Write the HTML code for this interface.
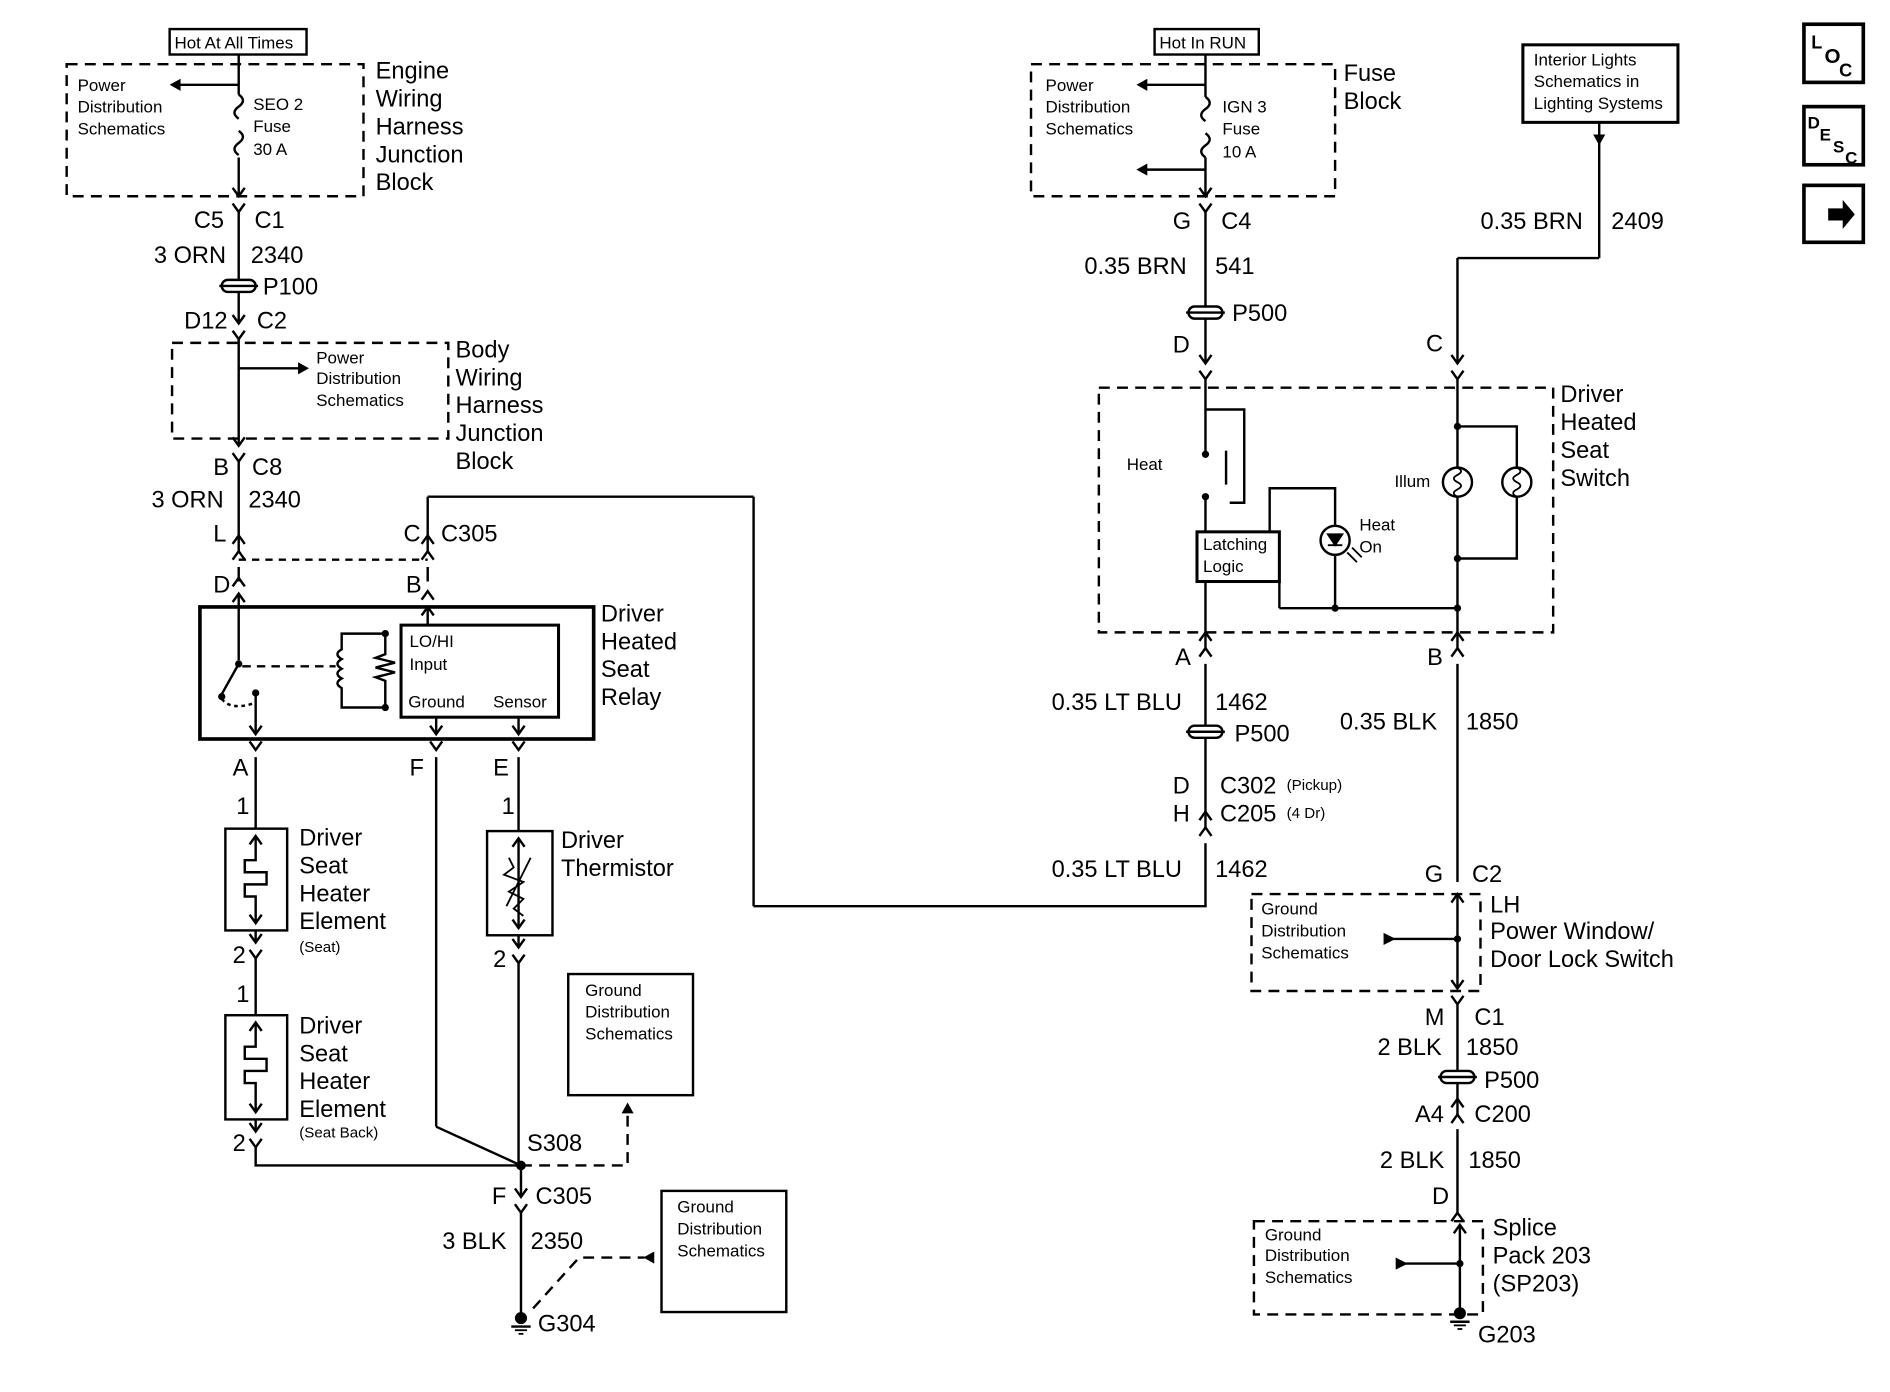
<!DOCTYPE html>
<html><head><meta charset="utf-8"><style>
html,body{margin:0;padding:0;background:#fff}
svg{display:block}
text{font-family:"Liberation Sans",Arial,sans-serif;fill:#000}
.b{font-size:19.5px}
.s{font-size:14px}
.t{font-size:12.5px}
</style></head><body>
<svg width="1890" height="1392" viewBox="0 0 1560 1149" xmlns="http://www.w3.org/2000/svg">
<defs>
<g id="cd"><path d="M-5,-7 L0,0 L5,-7" fill="none" stroke="#000" stroke-width="2"/><path d="M-5,6 L0,13 L5,6" fill="none" stroke="#000" stroke-width="2"/></g>
<g id="cu"><path d="M-5,7 L0,0 L5,7" fill="none" stroke="#000" stroke-width="2"/><path d="M-5,-6 L0,-13 L5,-6" fill="none" stroke="#000" stroke-width="2"/></g>
<g id="ad"><path d="M-5,-7 L0,0 L5,-7" fill="none" stroke="#000" stroke-width="2"/></g>
<g id="au"><path d="M-5,7 L0,0 L5,7" fill="none" stroke="#000" stroke-width="2"/></g>
<g id="spl"><rect x="-14" y="-5" width="28" height="10" rx="5" fill="#fff" stroke="#000" stroke-width="2"/><line x1="-16" y1="0" x2="16" y2="0" stroke="#000" stroke-width="2"/></g>
<g id="fuse"><path d="M0,0 q7,5 0,10 q-7,5 0,10 M0,30 q7,5 0,10 q-7,5 0,10" fill="none" stroke="#000" stroke-width="2"/></g>
<g id="gnd"><circle cx="0" cy="-4" r="5" fill="#000"/><line x1="-8" y1="3" x2="8" y2="3" stroke="#000" stroke-width="2"/><line x1="-5" y1="6" x2="5" y2="6" stroke="#000" stroke-width="1.5"/><line x1="-2" y1="9" x2="2" y2="9" stroke="#000" stroke-width="1.5"/></g>
<g id="lamp"><circle r="12" fill="#fff" stroke="#000" stroke-width="2"/><path d="M0,-12 q6,3 0,6 q-6,3 0,6 q6,3 0,6 q-6,3 0,6" fill="none" stroke="#000" stroke-width="1.5"/></g>
</defs>
<g stroke="#000" stroke-width="2" fill="none">
<rect x="140" y="24" width="113" height="21"/>
<rect x="55" y="53" width="245" height="109" stroke-dasharray="9,6"/>
<line x1="197" y1="45" x2="197" y2="78"/><line x1="197" y1="130" x2="197" y2="162"/>
<line x1="197" y1="70" x2="145" y2="70"/>
<line x1="197" y1="175" x2="197" y2="265"/>
<rect x="142" y="283" width="228" height="79" stroke-dasharray="9,6"/>
<line x1="197" y1="280" x2="197" y2="368"/>
<line x1="197" y1="304" x2="250" y2="304"/>
<line x1="197" y1="380" x2="197" y2="455"/>
<line x1="197" y1="462" x2="353" y2="462" stroke-dasharray="6,5"/>
<line x1="197" y1="468" x2="197" y2="480"/>
<line x1="353" y1="410" x2="353" y2="455"/>
<line x1="353" y1="410" x2="622" y2="410"/><line x1="622" y1="410" x2="622" y2="748"/><line x1="622" y1="748" x2="996" y2="748"/>
<line x1="353" y1="468" x2="353" y2="480"/>
<rect x="165" y="501" width="325" height="109" stroke-width="3"/>
<rect x="331" y="516" width="130" height="76" stroke-width="2.5"/>
<line x1="197" y1="490" x2="197" y2="545"/>
<line x1="197" y1="548" x2="183" y2="573"/>
<path d="M183,577 q8,10 28,3" stroke-dasharray="3,3"/>
<line x1="211" y1="572" x2="211" y2="606"/>
<line x1="200" y1="550" x2="277" y2="550" stroke-dasharray="7,5"/>
<path d="M318,523 L282,523 L282,536 q-7,4 0,8 q-7,4 0,8 q-7,4 0,8 q-7,4 0,8 L282,584 L318,584"/>
<path d="M318,523 L318,540 l-8,3 l16,4 l-16,4 l16,4 l-16,4 l8,3 L318,584"/>
<line x1="353" y1="501" x2="353" y2="516"/>
<line x1="360" y1="592" x2="360" y2="606"/><line x1="428" y1="592" x2="428" y2="606"/>
<line x1="211" y1="625" x2="211" y2="684"/>
<rect x="186" y="684" width="51" height="84"/>
<path d="M211,690 L211,710 L202,710 L202,720 L220,720 L220,730 L202,730 L202,740 L211,740 L211,762"/>
<line x1="211" y1="768" x2="211" y2="778"/>
<line x1="211" y1="790" x2="211" y2="838"/>
<rect x="186" y="838" width="51" height="86"/>
<path d="M211,844 L211,864 L202,864 L202,874 L220,874 L220,884 L202,884 L202,894 L211,894 L211,918"/>
<line x1="211" y1="924" x2="211" y2="934"/>
<path d="M211,946 L211,962 L430,962"/>
<line x1="360" y1="625" x2="360" y2="930"/><line x1="360" y1="930" x2="430" y2="962"/>
<line x1="428" y1="625" x2="428" y2="686"/>
<rect x="402" y="686" width="54" height="86"/>
<line x1="428" y1="692" x2="428" y2="766"/>
<path d="M418,748 l20,-40 M420,708 l4,8 l-8,6 l16,6 l-12,8 l12,6 l-8,8 l8,6" stroke-width="1.5"/>
<line x1="428" y1="772" x2="428" y2="782"/>
<line x1="428" y1="794" x2="428" y2="962"/>
<path d="M430,962 L518,962 L518,915" stroke-dasharray="9,6"/>
<rect x="469" y="804" width="103" height="100"/>
<line x1="430" y1="962" x2="430" y2="988"/>
<line x1="430" y1="1000" x2="430" y2="1085"/>
<path d="M440,1080 L478,1038 L532,1038" stroke-dasharray="9,6"/>
<rect x="546" y="983" width="103" height="100"/>
<rect x="953" y="24" width="86" height="21"/>
<rect x="851" y="53" width="251" height="109" stroke-dasharray="9,6"/>
<line x1="995" y1="45" x2="995" y2="80"/><line x1="995" y1="130" x2="995" y2="162"/>
<line x1="995" y1="70" x2="943" y2="70"/><line x1="995" y1="140" x2="943" y2="140"/>
<line x1="995" y1="175" x2="995" y2="300"/>
<rect x="907" y="320" width="375" height="202" stroke-dasharray="9,6"/>
<line x1="995" y1="312" x2="995" y2="375"/>
<path d="M995,338 L1027,338 L1027,415 L1015,415"/>
<line x1="1012" y1="372" x2="1012" y2="400"/>
<line x1="995" y1="410" x2="995" y2="439"/>
<rect x="988" y="439" width="68" height="41" stroke-width="2.5"/>
<path d="M1048,439 L1048,403 L1102,403 L1102,434"/>
<path d="M1102,458 L1102,502"/>
<line x1="1056" y1="480" x2="1056" y2="502"/><line x1="1056" y1="502" x2="1203" y2="502"/>
<line x1="995" y1="480" x2="995" y2="535"/>
<rect x="1257" y="37" width="128" height="64" stroke-width="2.5"/>
<line x1="1320" y1="101" x2="1320" y2="213"/><line x1="1320" y1="213" x2="1203" y2="213"/>
<line x1="1203" y1="213" x2="1203" y2="300"/>
<line x1="1203" y1="312" x2="1203" y2="386"/>
<line x1="1203" y1="410" x2="1203" y2="535"/>
<path d="M1203,352 L1252,352 L1252,386 M1252,410 L1252,461 L1203,461"/>
<line x1="995" y1="548" x2="995" y2="683"/>
<line x1="995" y1="696" x2="995" y2="748"/>
<line x1="1203" y1="548" x2="1203" y2="728"/>
<rect x="1033" y="738" width="189" height="80" stroke-dasharray="9,6"/>
<line x1="1203" y1="738" x2="1203" y2="816"/>
<line x1="1203" y1="775" x2="1150" y2="775"/>
<line x1="1203" y1="828" x2="1203" y2="920"/>
<line x1="1203" y1="932" x2="1203" y2="1003"/>
<rect x="1035" y="1008" width="189" height="77" stroke-dasharray="9,6"/>
<line x1="1205" y1="1012" x2="1205" y2="1082"/>
<line x1="1205" y1="1043" x2="1160" y2="1043"/>
<rect x="1489" y="20" width="49" height="48" stroke-width="3"/>
<rect x="1489" y="88" width="49" height="48" stroke-width="3"/>
<rect x="1489" y="153" width="49" height="47" stroke-width="3"/>
</g>
<g fill="#000">
<path d="M140,70 l9,-5 l0,10z"/><path d="M255,304 l-9,-5 l0,10z"/>
<path d="M938,70 l9,-5 l0,10z"/><path d="M938,140 l9,-5 l0,10z"/>
<path d="M1320,120 l-5,-9 l10,0z"/>
<path d="M518,910 l-5,9 l10,0z"/><path d="M531,1038 l9,-5 l0,10z"/>
<path d="M1142,770 l10,5 l-10,5z"/><path d="M1152,1038 l10,5 l-10,5z"/>
<path d="M1509,172 l12,0 l0,-7 l10,12 l-10,12 l0,-7 l-12,0z"/>
<circle cx="430" cy="962" r="4"/><circle cx="995" cy="375" r="3"/><circle cx="995" cy="410" r="3"/>
<circle cx="1203" cy="461" r="3"/><circle cx="1203" cy="502" r="3"/><circle cx="1102" cy="502" r="3"/>
<circle cx="1203" cy="352" r="3"/><circle cx="1203" cy="775" r="3"/><circle cx="1205" cy="1043" r="3"/>
<circle cx="197" cy="548" r="3"/><circle cx="183" cy="575" r="3"/><circle cx="211" cy="572" r="3"/>
<circle cx="318" cy="523" r="3"/><circle cx="318" cy="584" r="3"/>
</g>
<use href="#fuse" x="197" y="78"/><use href="#fuse" x="995" y="80"/>
<use href="#cd" x="197" y="162"/><use href="#cd" x="995" y="162"/>
<use href="#spl" x="197" y="236"/><use href="#spl" x="995" y="258"/><use href="#spl" x="995" y="604"/><use href="#spl" x="1203" y="889"/>
<use href="#cd" x="197" y="267"/><use href="#cd" x="197" y="368"/>
<use href="#cu" x="197" y="455"/><use href="#cu" x="353" y="455"/>
<use href="#cu" x="197" y="490"/><use href="#cu" x="353" y="501"/>
<use href="#cd" x="211" y="606"/><use href="#cd" x="360" y="606"/><use href="#cd" x="428" y="606"/>
<use href="#au" x="211" y="690"/><use href="#ad" x="211" y="762"/><use href="#cd" x="211" y="778"/>
<use href="#au" x="211" y="844"/><use href="#ad" x="211" y="918"/><use href="#cd" x="211" y="934"/>
<use href="#au" x="428" y="692"/><use href="#ad" x="428" y="766"/><use href="#cd" x="428" y="782"/>
<use href="#cd" x="430" y="988"/>
<use href="#gnd" x="430" y="1092"/><use href="#gnd" x="1205" y="1088"/>
<use href="#cd" x="995" y="300"/><use href="#cd" x="1203" y="300"/>
<use href="#cu" x="995" y="535"/><use href="#cu" x="1203" y="535"/>
<use href="#cu" x="995" y="683"/>
<use href="#au" x="1203" y="738"/><use href="#cd" x="1203" y="816"/>
<use href="#cu" x="1203" y="920"/>
<use href="#au" x="1203" y="1001"/><use href="#au" x="1205" y="1011"/>
<use href="#lamp" x="1203" y="398"/><use href="#lamp" x="1252" y="398"/>
<circle cx="1102" cy="446" r="12" fill="#fff" stroke="#000" stroke-width="2"/>
<path d="M1096,441 l12,0 l-6,9z M1096,450 l12,0" fill="#000" stroke="#000" stroke-width="1.5"/>
<path d="M1112,456 l8,8 M1116,452 l8,8" stroke="#000" stroke-width="1.5"/>
<text class="s" x="144" y="40">Hot At All Times</text>
<text class="s" x="64" y="75">Power</text><text class="s" x="64" y="93">Distribution</text><text class="s" x="64" y="111">Schematics</text>
<text class="s" x="209" y="91">SEO 2</text><text class="s" x="209" y="109">Fuse</text><text class="s" x="209" y="128">30 A</text>
<text class="b" x="310" y="65">Engine</text><text class="b" x="310" y="88">Wiring</text><text class="b" x="310" y="111">Harness</text><text class="b" x="310" y="134">Junction</text><text class="b" x="310" y="157">Block</text>
<text class="b" x="160" y="188">C5</text><text class="b" x="210" y="188">C1</text>
<text class="b" x="127" y="217">3 ORN</text><text class="b" x="207" y="217">2340</text>
<text class="b" x="217" y="243">P100</text>
<text class="b" x="152" y="271">D12</text><text class="b" x="212" y="271">C2</text>
<text class="s" x="261" y="300">Power</text><text class="s" x="261" y="317">Distribution</text><text class="s" x="261" y="335">Schematics</text>
<text class="b" x="376" y="295">Body</text><text class="b" x="376" y="318">Wiring</text><text class="b" x="376" y="341">Harness</text><text class="b" x="376" y="364">Junction</text><text class="b" x="376" y="387">Block</text>
<text class="b" x="176" y="392">B</text><text class="b" x="208" y="392">C8</text>
<text class="b" x="125" y="419">3 ORN</text><text class="b" x="205" y="419">2340</text>
<text class="b" x="176" y="447">L</text><text class="b" x="333" y="447">C</text><text class="b" x="364" y="447">C305</text>
<text class="b" x="176" y="489">D</text><text class="b" x="335" y="489">B</text>
<text class="s" x="338" y="534">LO/HI</text><text class="s" x="338" y="553">Input</text>
<text class="s" x="337" y="584">Ground</text><text class="s" x="407" y="584">Sensor</text>
<text class="b" x="496" y="513">Driver</text><text class="b" x="496" y="536">Heated</text><text class="b" x="496" y="559">Seat</text><text class="b" x="496" y="582">Relay</text>
<text class="b" x="192" y="640">A</text><text class="b" x="338" y="640">F</text><text class="b" x="407" y="640">E</text>
<text class="b" x="195" y="672">1</text><text class="b" x="414" y="672">1</text>
<text class="b" x="247" y="698">Driver</text><text class="b" x="247" y="721">Seat</text><text class="b" x="247" y="744">Heater</text><text class="b" x="247" y="767">Element</text><text class="t" x="247" y="786">(Seat)</text>
<text class="b" x="463" y="700">Driver</text><text class="b" x="463" y="723">Thermistor</text>
<text class="b" x="192" y="795">2</text><text class="b" x="407" y="798">2</text>
<text class="b" x="195" y="827">1</text>
<text class="b" x="247" y="853">Driver</text><text class="b" x="247" y="876">Seat</text><text class="b" x="247" y="899">Heater</text><text class="b" x="247" y="922">Element</text><text class="t" x="247" y="939">(Seat Back)</text>
<text class="b" x="192" y="950">2</text>
<text class="b" x="435" y="950">S308</text>
<text class="s" x="483" y="822">Ground</text><text class="s" x="483" y="840">Distribution</text><text class="s" x="483" y="858">Schematics</text>
<text class="b" x="406" y="994">F</text><text class="b" x="442" y="994">C305</text>
<text class="b" x="365" y="1031">3 BLK</text><text class="b" x="438" y="1031">2350</text>
<text class="b" x="444" y="1099">G304</text>
<text class="s" x="559" y="1001">Ground</text><text class="s" x="559" y="1019">Distribution</text><text class="s" x="559" y="1037">Schematics</text>
<text class="s" x="957" y="40">Hot In RUN</text>
<text class="s" x="863" y="75">Power</text><text class="s" x="863" y="93">Distribution</text><text class="s" x="863" y="111">Schematics</text>
<text class="s" x="1009" y="93">IGN 3</text><text class="s" x="1009" y="111">Fuse</text><text class="s" x="1009" y="130">10 A</text>
<text class="b" x="1109" y="67">Fuse</text><text class="b" x="1109" y="90">Block</text>
<text class="s" x="1266" y="54">Interior Lights</text><text class="s" x="1266" y="72">Schematics in</text><text class="s" x="1266" y="90">Lighting Systems</text>
<text class="b" x="968" y="189">G</text><text class="b" x="1008" y="189">C4</text>
<text class="b" x="1222" y="189">0.35 BRN</text><text class="b" x="1330" y="189">2409</text>
<text class="b" x="895" y="226">0.35 BRN</text><text class="b" x="1003" y="226">541</text>
<text class="b" x="1017" y="265">P500</text>
<text class="b" x="968" y="291">D</text><text class="b" x="1177" y="290">C</text>
<text class="b" x="1288" y="332">Driver</text><text class="b" x="1288" y="355">Heated</text><text class="b" x="1288" y="378">Seat</text><text class="b" x="1288" y="401">Switch</text>
<text class="s" x="930" y="388">Heat</text>
<text class="s" x="1151" y="402">Illum</text>
<text class="s" x="1122" y="438">Heat</text><text class="s" x="1122" y="456">On</text>
<text class="s" x="993" y="454">Latching</text><text class="s" x="993" y="472">Logic</text>
<text class="b" x="970" y="549">A</text><text class="b" x="1178" y="549">B</text>
<text class="b" x="868" y="586">0.35 LT BLU</text><text class="b" x="1003" y="586">1462</text>
<text class="b" x="1019" y="612">P500</text>
<text class="b" x="1106" y="602">0.35 BLK</text><text class="b" x="1210" y="602">1850</text>
<text class="b" x="968" y="655">D</text><text class="b" x="1007" y="655">C302</text><text class="t" x="1062" y="652">(Pickup)</text>
<text class="b" x="968" y="678">H</text><text class="b" x="1007" y="678">C205</text><text class="t" x="1062" y="675">(4 Dr)</text>
<text class="b" x="868" y="724">0.35 LT BLU</text><text class="b" x="1003" y="724">1462</text>
<text class="b" x="1176" y="728">G</text><text class="b" x="1215" y="728">C2</text>
<text class="s" x="1041" y="755">Ground</text><text class="s" x="1041" y="773">Distribution</text><text class="s" x="1041" y="791">Schematics</text>
<text class="b" x="1230" y="753">LH</text><text class="b" x="1230" y="775">Power Window/</text><text class="b" x="1230" y="798">Door Lock Switch</text>
<text class="b" x="1176" y="846">M</text><text class="b" x="1217" y="846">C1</text>
<text class="b" x="1137" y="871">2 BLK</text><text class="b" x="1210" y="871">1850</text>
<text class="b" x="1225" y="898">P500</text>
<text class="b" x="1168" y="926">A4</text><text class="b" x="1217" y="926">C200</text>
<text class="b" x="1139" y="964">2 BLK</text><text class="b" x="1212" y="964">1850</text>
<text class="b" x="1182" y="994">D</text>
<text class="s" x="1044" y="1024">Ground</text><text class="s" x="1044" y="1041">Distribution</text><text class="s" x="1044" y="1059">Schematics</text>
<text class="b" x="1232" y="1020">Splice</text><text class="b" x="1232" y="1043">Pack 203</text><text class="b" x="1232" y="1066">(SP203)</text>
<text class="b" x="1220" y="1108">G203</text>
<text x="1495" y="40" style="font-size:15px;font-weight:bold">L</text><text x="1506" y="52" style="font-size:17px;font-weight:bold">O</text><text x="1518" y="63" style="font-size:15px;font-weight:bold">C</text>
<text x="1492" y="106" style="font-size:14px;font-weight:bold">D</text><text x="1502" y="116" style="font-size:14px;font-weight:bold">E</text><text x="1513" y="126" style="font-size:14px;font-weight:bold">S</text><text x="1523" y="135" style="font-size:14px;font-weight:bold">C</text>
</svg>
</body></html>
